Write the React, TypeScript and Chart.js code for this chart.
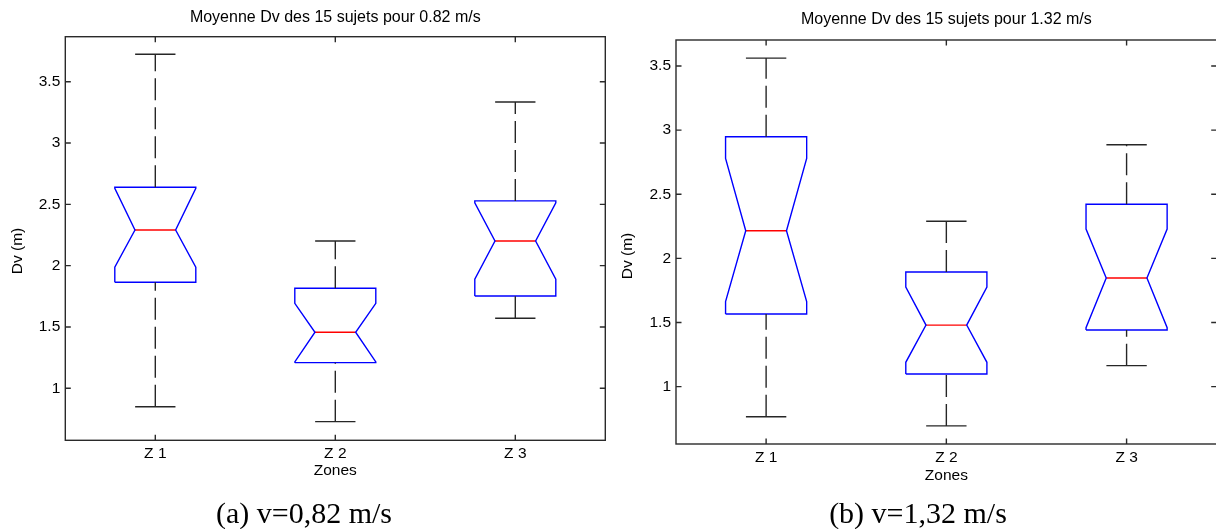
import React, { useEffect, useRef } from "react";
import { Chart, registerables } from "chart.js";
Chart.register(...registerables);

const zoneLabels = ["Z 1", "Z 2", "Z 3"];
const zonePositions = [1, 2, 3];
const yTickValues = [1, 1.5, 2, 2.5, 3, 3.5];
const yTickLabels = ["1", "1.5", "2", "2.5", "3", "3.5"];

const titleA = "Moyenne Dv des 15 sujets pour 0.82 m/s";
const titleB = "Moyenne Dv des 15 sujets pour 1.32 m/s";
const captionA = "(a) v=0,82 m/s";
const captionB = "(b) v=1,32 m/s";
const yAxisLabel = "Dv (m)";
const xAxisLabel = "Zones";

// panel (a) : 0.82 m/s
const lowerA = [0.85, 0.728, 1.571];
const q1A = [1.865, 1.209, 1.753];
const notchLowA = [1.987, 1.215, 1.889];
const medianA = [2.291, 1.457, 2.201];
const notchHighA = [2.63, 1.693, 2.513];
const q3A = [2.639, 1.816, 2.528];
const upperA = [3.724, 2.201, 3.335];

// panel (b) : 1.32 m/s
const lowerB = [0.766, 0.694, 1.164];
const q1B = [1.567, 1.099, 1.442];
const notchLowB = [1.663, 1.19, 1.46];
const medianB = [2.216, 1.48, 1.847];
const notchHighB = [2.78, 1.777, 2.229];
const q3B = [2.949, 1.894, 2.422];
const upperB = [3.562, 2.29, 2.886];

const BOX = 0.225;
const NOTCH = 0.113;
const CAP = 0.112;
const BLUE = "#0000ff";
const RED = "#ff0000";
const WHISK = "#262626";
const AXIS = "#2a2a2a";
const FONT = '"Liberation Sans", Arial, sans-serif';

type Stats = {
  lw: number[]; q1: number[]; nlo: number[]; med: number[];
  nhi: number[]; q3: number[]; uw: number[];
};

type Spec = {
  stats: Stats;
  title: string;
  yMin: number; yMax: number;
  padTop: number; padRight: number; padBottom: number;
  yWidth: number;
  titleY: number; yLabelX: number; yLabelY: number; xLabelY: number;
};

function buildDatasets(s: Stats) {
  const ds: any[] = [];
  const base = { showLine: true, pointRadius: 0, fill: false, tension: 0, borderJoinStyle: "miter", borderCapStyle: "butt" };
  zonePositions.forEach((x, i) => {
    ds.push({ ...base, data: [{ x, y: s.lw[i] }, { x, y: s.q1[i] }], borderColor: WHISK, borderWidth: 1.4, borderDash: [22, 7] });
    ds.push({ ...base, data: [{ x, y: s.q3[i] }, { x, y: s.uw[i] }], borderColor: WHISK, borderWidth: 1.4, borderDash: [22, 7] });
    ds.push({ ...base, data: [{ x: x - CAP, y: s.lw[i] }, { x: x + CAP, y: s.lw[i] }], borderColor: WHISK, borderWidth: 1.4 });
    ds.push({ ...base, data: [{ x: x - CAP, y: s.uw[i] }, { x: x + CAP, y: s.uw[i] }], borderColor: WHISK, borderWidth: 1.4 });
    ds.push({
      ...base,
      data: [
        { x: x - BOX, y: s.q1[i] }, { x: x - BOX, y: s.nlo[i] }, { x: x - NOTCH, y: s.med[i] },
        { x: x - BOX, y: s.nhi[i] }, { x: x - BOX, y: s.q3[i] }, { x: x + BOX, y: s.q3[i] },
        { x: x + BOX, y: s.nhi[i] }, { x: x + NOTCH, y: s.med[i] }, { x: x + BOX, y: s.nlo[i] },
        { x: x + BOX, y: s.q1[i] }, { x: x - BOX, y: s.q1[i] },
      ],
      borderColor: BLUE, borderWidth: 1.4,
    });
    ds.push({ ...base, data: [{ x: x - NOTCH, y: s.med[i] }, { x: x + NOTCH, y: s.med[i] }], borderColor: RED, borderWidth: 1.4 });
  });
  return ds;
}

function makeDecor(spec: Spec) {
  return {
    id: "matlabDecor",
    afterDraw(chart: any) {
      const { ctx, chartArea: a, scales } = chart;
      const xs = scales.x, ys = scales.y;
      ctx.save();
      ctx.strokeStyle = AXIS;
      ctx.lineWidth = 1.4;
      ctx.strokeRect(a.left, a.top, a.right - a.left, a.bottom - a.top);
      const tl = 5.5;
      ctx.beginPath();
      yTickValues.forEach((v) => {
        const py = ys.getPixelForValue(v);
        ctx.moveTo(a.left, py); ctx.lineTo(a.left + tl, py);
        ctx.moveTo(a.right, py); ctx.lineTo(a.right - tl, py);
      });
      zonePositions.forEach((v) => {
        const px = xs.getPixelForValue(v);
        ctx.moveTo(px, a.bottom); ctx.lineTo(px, a.bottom - tl);
        ctx.moveTo(px, a.top); ctx.lineTo(px, a.top + tl);
      });
      ctx.stroke();
      ctx.fillStyle = "#000";
      ctx.textAlign = "center";
      ctx.textBaseline = "middle";
      ctx.font = "16px " + FONT;
      const cx = (a.left + a.right) / 2;
      ctx.fillText(spec.title, cx, spec.titleY);
      ctx.font = "15.5px " + FONT;
      ctx.fillText(xAxisLabel, cx, spec.xLabelY);
      ctx.translate(spec.yLabelX, spec.yLabelY);
      ctx.rotate(-Math.PI / 2);
      ctx.fillText(yAxisLabel, 0, 0);
      ctx.restore();
    },
  };
}

function Panel({ spec, width, height }: { spec: Spec; width: number; height: number }) {
  const ref = useRef<HTMLCanvasElement | null>(null);
  useEffect(() => {
    if (!ref.current) return;
    const chart = new Chart(ref.current, {
      type: "line",
      data: { datasets: buildDatasets(spec.stats) },
      options: {
        animation: false,
        responsive: false,
        devicePixelRatio: 1,
        events: [],
        layout: { padding: { left: 0, right: spec.padRight, top: spec.padTop, bottom: spec.padBottom } },
        plugins: { legend: { display: false }, title: { display: false }, tooltip: { enabled: false } },
        scales: {
          x: {
            type: "linear",
            min: 0.5,
            max: 3.5,
            grid: { display: false, drawTicks: false },
            border: { display: false },
            afterBuildTicks: (sc: any) => { sc.ticks = zonePositions.map((v) => ({ value: v })); },
            afterFit: (sc: any) => { sc.height = 40; },
            ticks: {
              autoSkip: false,
              maxRotation: 0,
              padding: 4,
              color: "#000",
              font: { family: FONT, size: 15.5 },
              callback: (v: any) => { const k = zonePositions.indexOf(Number(v)); return k >= 0 ? zoneLabels[k] : ""; },
            },
          },
          y: {
            type: "linear",
            min: spec.yMin,
            max: spec.yMax,
            grid: { display: false, drawTicks: false },
            border: { display: false },
            afterBuildTicks: (sc: any) => { sc.ticks = yTickValues.map((v) => ({ value: v })); },
            afterFit: (sc: any) => { sc.width = spec.yWidth; },
            ticks: {
              padding: 5,
              color: "#000",
              font: { family: FONT, size: 15.5 },
              callback: (v: any) => { const k = yTickValues.indexOf(Number(v)); return k >= 0 ? yTickLabels[k] : ""; },
            },
          },
        },
      },
      plugins: [makeDecor(spec)],
    } as any);
    return () => chart.destroy();
  }, [spec]);
  return <canvas ref={ref} width={width} height={height} style={{ width, height, display: "block" }} />;
}

const specA: Spec = {
  stats: { lw: lowerA, q1: q1A, nlo: notchLowA, med: medianA, nhi: notchHighA, q3: q3A, uw: upperA },
  title: titleA,
  yMin: 0.576, yMax: 3.867,
  padTop: 36.7, padRight: 610 - 605.3, padBottom: 500 - 440.3 - 40,
  yWidth: 65.3,
  titleY: 18, yLabelX: 18, yLabelY: 251, xLabelY: 471,
};

const specB: Spec = {
  stats: { lw: lowerB, q1: q1B, nlo: notchLowB, med: medianB, nhi: notchHighB, q3: q3B, uw: upperB },
  title: titleB,
  yMin: 0.553, yMax: 3.703,
  padTop: 40, padRight: 620 - 606.7, padBottom: 500 - 444 - 40,
  yWidth: 66,
  titleY: 20, yLabelX: 18, yLabelY: 256, xLabelY: 476,
};

export default function App() {
  const capStyle: React.CSSProperties = {
    position: "absolute",
    top: 498,
    fontFamily: '"Liberation Serif", "Times New Roman", serif',
    fontSize: 30,
    lineHeight: "30px",
    textAlign: "center",
    color: "#000",
    whiteSpace: "nowrap",
  };
  return (
    <div style={{ position: "absolute", left: 0, top: 0, width: 1216, height: 529, overflow: "hidden", background: "#fff" }}>
      <div style={{ position: "absolute", left: 0, top: 0 }}>
        <Panel spec={specA} width={610} height={500} />
      </div>
      <div style={{ position: "absolute", left: 610, top: 0 }}>
        <Panel spec={specB} width={620} height={500} />
      </div>
      <div style={{ ...capStyle, left: 0, width: 608 }}>{captionA}</div>
      <div style={{ ...capStyle, left: 610, width: 616 }}>{captionB}</div>
    </div>
  );
}
